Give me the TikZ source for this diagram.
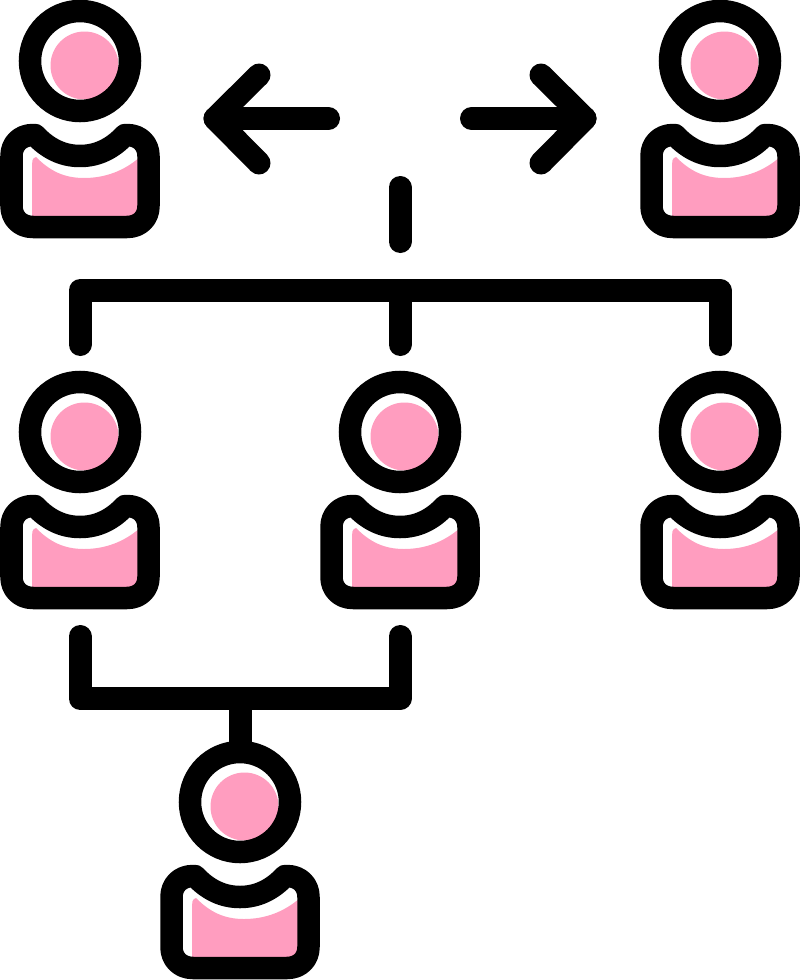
\documentclass[tikz,border=0pt]{standalone}
\usetikzlibrary{calc}
\definecolor{pinkfill}{HTML}{FF9DBF}
\tikzset{
  x=1pt,y=-1pt,
  inkline/.style={draw=black,line width=23pt,line cap=round,line join=round},
  bodyline/.style={draw=black,line width=22.5pt,line cap=round,line join=round},
  headring/.style={circle,draw=black,line width=22.5pt,minimum size=100pt,inner sep=0pt,outer sep=0pt},
  person/.pic={
    \begin{scope}
      \clip (80,61) circle (40);
      \fill[pinkfill] (84.5,65.5) circle (34);
    \end{scope}
    \begin{scope}
      \clip (12,135) rectangle (148,226);
      \fill[pinkfill] (36,157) .. controls (32,158) and (32,162) .. (32,165) -- (32,216) -- (140,216) -- (140,157)
        .. controls (124,171) and (105,178) .. (84,178)
        .. controls (64,178) and (50,171) .. (36,157) -- cycle;
    \end{scope}
    \draw[bodyline] (35,135) -- (33,135)
      .. controls (20,135) and (11.5,144) .. (11.5,156)
      -- (11.5,206)
      .. controls (11.5,218) and (20,227) .. (33,227)
      -- (127,227)
      .. controls (140,227) and (148.5,218) .. (148.5,206)
      -- (148.5,156)
      .. controls (148.5,144) and (140,135) .. (127,135)
      -- (125,135)
      .. controls (112,149) and (97,156) .. (80,156)
      .. controls (63,156) and (48,149) .. (35,135) -- cycle;
    \node[headring] (-head) at (80,61) {};
  }
}
\begin{document}
\begin{tikzpicture}
\useasboundingbox (0,0) rectangle (800,980);
\pic (p1) at (0,0) {person};
\pic (p2) at (640,0) {person};
\pic (p3) at (0,371) {person};
\pic (p4) at (320,371) {person};
\pic (p5) at (640,371) {person};
\pic (p6) at (160,741) {person};
% arrows
\coordinate (lt) at (215,118.5);
\coordinate (lb) at (328.5,118.5);
\coordinate (lu) at (259,75);
\coordinate (ld) at (259,163);
\draw[inkline] (lb) -- (lt);
\draw[inkline] (lu) -- (lt) -- (ld);
\coordinate (rt) at (585,118.5);
\coordinate (rb) at (471.5,118.5);
\coordinate (ru) at (541,75);
\coordinate (rd) at (541,163);
\draw[inkline] (rb) -- (rt);
\draw[inkline] (ru) -- (rt) -- (rd);
% tree
\coordinate (stemtop) at (400,187.5);
\coordinate (stembot) at (400,241.5);
\coordinate (busmid) at (400,290.5);
\coordinate (d1) at (80,344.5);
\coordinate (d2) at (400,344.5);
\coordinate (d3) at (720,344.5);
\draw[inkline] (stemtop) -- (stembot);
\draw[inkline] (d1) |- (busmid) -| (d3);
\draw[inkline] (busmid) -- (d2);
% lower
\coordinate (e1) at (80,636.5);
\coordinate (e2) at (400,636.5);
\coordinate (lowmid) at (240,698.5);
\draw[inkline] (e1) |- (lowmid) -| (e2);
\draw[inkline,line cap=butt] (lowmid) -- (p6-head.north);
\end{tikzpicture}
\end{document}
